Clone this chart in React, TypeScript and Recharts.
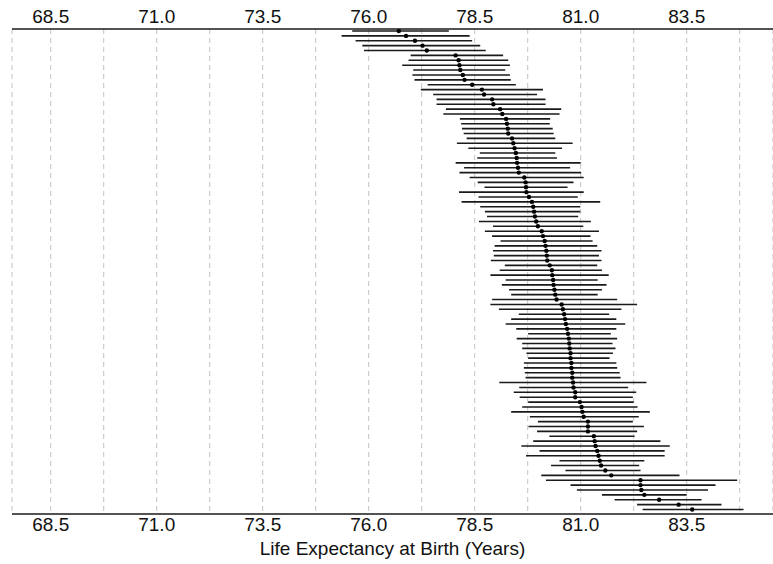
import React from 'react';
import { ScatterChart, Scatter, XAxis, YAxis, ErrorBar, CartesianGrid } from 'recharts';

const estimates = [
  76.71, 76.88, 77.09, 77.27, 77.37, 78.05, 78.12, 78.14, 78.16, 78.22,
  78.26, 78.44, 78.67, 78.72, 78.91, 78.94, 79.1, 79.15, 79.24, 79.26,
  79.28, 79.29, 79.38, 79.41, 79.44, 79.47, 79.49, 79.5, 79.52, 79.54,
  79.67, 79.7, 79.71, 79.72, 79.78, 79.85, 79.88, 79.9, 79.92, 79.95,
  79.99, 80.08, 80.11, 80.15, 80.17, 80.19, 80.2, 80.21, 80.27, 80.32,
  80.33, 80.35, 80.36, 80.38, 80.4, 80.43, 80.55, 80.58, 80.61, 80.63,
  80.65, 80.68, 80.7, 80.72, 80.73, 80.74, 80.76, 80.76, 80.78, 80.78,
  80.8, 80.8, 80.82, 80.83, 80.87, 80.87, 80.98, 81.02, 81.04, 81.07,
  81.17, 81.17, 81.17, 81.31, 81.33, 81.35, 81.39, 81.42, 81.45, 81.48,
  81.58, 81.72, 82.41, 82.41, 82.43, 82.5, 82.85, 83.31, 83.63,
];

const lowerBounds = [
  75.61, 75.36, 75.69, 75.85, 75.89, 76.99, 76.94, 76.79, 77.05, 77.03,
  77.08, 77.39, 77.23, 77.52, 77.6, 77.6, 77.82, 77.76, 78.15, 78.18,
  78.2, 78.24, 78.31, 78.08, 78.35, 78.62, 78.56, 78.05, 78.25, 78.14,
  78.38, 78.57, 78.73, 78.13, 78.59, 78.19, 78.63, 78.74, 78.79, 78.6,
  78.93, 78.74, 78.91, 79.11, 78.97, 78.93, 78.95, 78.88, 79.21, 79.09,
  78.87, 79.23, 79.14, 79.31, 79.36, 78.91, 78.87, 79.07, 79.54, 79.36,
  79.23, 79.48, 79.76, 79.49, 79.62, 79.62, 79.72, 79.76, 79.66, 79.66,
  79.68, 79.7, 79.08, 79.55, 79.42, 79.56, 79.76, 79.62, 79.36, 79.8,
  79.99, 79.77, 79.97, 80.26, 79.88, 79.6, 80.03, 79.71, 80.5, 80.3,
  80.64, 80.07, 80.18, 80.76, 80.91, 81.5, 81.8, 82.33, 82.46,
];

const upperBounds = [
  77.89, 78.38, 78.44, 78.63, 78.76, 79.17, 79.29, 79.33, 79.22, 79.33,
  79.35, 79.47, 80.11, 79.97, 80.17, 80.17, 80.54, 80.5, 80.28, 80.27,
  80.34, 80.36, 80.4, 80.81, 80.56, 80.4, 80.44, 81.0, 80.75, 81.01,
  81.07, 80.83, 80.69, 81.07, 80.93, 81.46, 80.99, 80.99, 80.94, 81.24,
  81.06, 81.43, 81.23, 81.28, 81.39, 81.49, 81.43, 81.49, 81.39, 81.5,
  81.66, 81.4, 81.61, 81.5, 81.4, 81.86, 82.33, 81.96, 81.67, 81.84,
  82.05, 81.84, 81.71, 81.86, 81.75, 81.82, 81.76, 81.68, 81.84, 81.86,
  81.92, 81.94, 82.55, 82.12, 82.31, 82.23, 82.25, 82.34, 82.63, 82.37,
  82.23, 82.49, 82.33, 82.27, 82.88, 83.1, 82.98, 82.98, 82.5, 82.38,
  82.41, 83.33, 84.69, 84.18, 84.0, 83.5, 83.85, 84.32, 84.84,
];

const tickValues = [68.5, 71.0, 73.5, 76.0, 78.5, 81.0, 83.5];
const gridValues = [68.5, 69.75, 71.0, 72.25, 73.5, 74.75, 76.0, 77.25, 78.5, 79.75, 81.0, 82.25, 83.5, 84.75];
const xTitle = 'Life Expectancy at Birth (Years)';

const xDomain: [number, number] = [67.587, 85.535];
const yDomain: [number, number] = [0.59, 99.92];

const data = estimates.map((v, i) => ({
  row: i + 1,
  value: v,
  err: [v - lowerBounds[i], upperBounds[i] - v],
}));

const FONT = '"Liberation Sans", Arial, Helvetica, sans-serif';
const tickStyle = { fontSize: 19, fill: '#111', fontFamily: FONT };
const axisLineStyle = { stroke: '#1a1a1a', strokeWidth: 1.4 };

const Dot = (props: any) => <circle cx={props.cx} cy={props.cy} r={2.2} fill="#000" />;

export default function App() {
  return (
    <div style={{ position: 'absolute', left: 0, top: 0, width: 773, height: 564, background: '#fff' }}>
      <ScatterChart width={773} height={564} margin={{ top: 0, right: 0, bottom: 0, left: 12 }}>
        <XAxis
          xAxisId="grid"
          type="number"
          dataKey="value"
          domain={xDomain}
          ticks={gridValues}
          allowDataOverflow
          hide
        />
        <CartesianGrid
          xAxisId="grid"
          horizontal={false}
          vertical
          stroke="#c2c2c2"
          strokeDasharray="5 4"
          strokeWidth={1}
        />
        <XAxis
          xAxisId="top"
          orientation="top"
          type="number"
          dataKey="value"
          domain={xDomain}
          ticks={tickValues}
          allowDataOverflow
          height={29}
          tickFormatter={(v: number) => v.toFixed(1)}
          tick={tickStyle}
          tickLine={false}
          tickSize={4}
          tickMargin={2}
          axisLine={axisLineStyle}
          interval={0}
        />
        <XAxis
          xAxisId="bottom"
          orientation="bottom"
          type="number"
          dataKey="value"
          domain={xDomain}
          ticks={tickValues}
          allowDataOverflow
          height={50}
          tickFormatter={(v: number) => v.toFixed(1)}
          tick={tickStyle}
          tickLine={false}
          tickSize={2}
          tickMargin={2}
          axisLine={axisLineStyle}
          interval={0}
          label={{ value: xTitle, position: 'insideBottom', offset: 9, style: { fontSize: 19, fill: '#111', fontFamily: FONT } }}
        />
        <YAxis
          type="number"
          dataKey="row"
          domain={yDomain}
          reversed
          allowDataOverflow
          width={0}
          tick={false}
          tickLine={false}
          axisLine={axisLineStyle}
        />
        <Scatter data={data} xAxisId="bottom" dataKey="value" shape={Dot} isAnimationActive={false}>
          <ErrorBar dataKey="err" direction="x" width={0} stroke="#1a1a1a" strokeWidth={1.6} isAnimationActive={false} />
        </Scatter>
      </ScatterChart>
    </div>
  );
}
